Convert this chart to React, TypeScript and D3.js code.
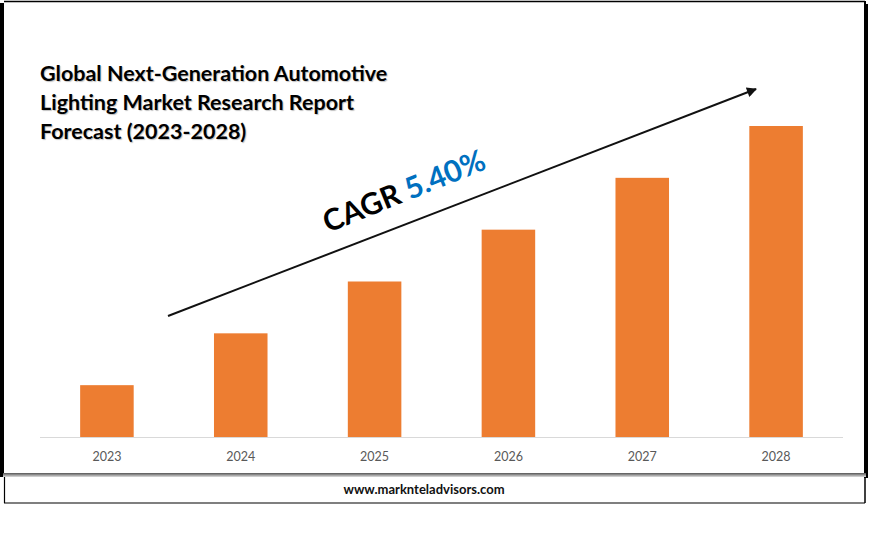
import React from "react";
import * as d3 from "d3";

const years = ["2023", "2024", "2025", "2026", "2027", "2028"];
const values = [1.0, 2.0, 3.0, 4.0, 5.0, 6.0];
const titleLines = [
  "Global Next-Generation Automotive",
  "Lighting Market Research Report",
  "Forecast (2023-2028)",
];
const cagrLabel = "CAGR";
const cagrValue = "5.40%";
const website = "www.marknteladvisors.com";

const W = 870;
const H = 543;

export default function App() {
  const x = d3.scaleBand<string>().domain(years).range([40, 843]).paddingInner(0.6).paddingOuter(0.3);
  const y = d3.scaleLinear().domain([0, 6]).range([437, 126]);
  const font = "Lato, 'Open Sans', sans-serif";
  return (
    <svg width={W} height={H} style={{ position: "absolute", left: 0, top: 0 }}>
      <defs>
        <linearGradient id="shadowH" x1="0" y1="0" x2="0" y2="1">
          <stop offset="0" stopColor="#555" />
          <stop offset="1" stopColor="#ddd" />
        </linearGradient>
        <marker id="arrow" viewBox="0 0 10 10" refX="9" refY="5" markerWidth="6" markerHeight="5" orient="auto">
          <path d="M0,0 L10,5 L0,10 z" fill="#111" />
        </marker>
      </defs>
      <rect x={0} y={0} width={W} height={H} fill="#fff" />
      {/* outer frame */}
      <rect x={0} y={3} width={4} height={474} fill="#000" />
      <line x1={4} y1={1.5} x2={865} y2={1.5} stroke="#000" strokeWidth={1.5} />
      <rect x={864} y={1} width={2} height={477} fill="#000" />
      <rect x={866} y={4} width={2} height={474} fill="#000" />
      <rect x={3} y={473} width={863} height={4} fill="url(#shadowH)" />
      {/* bottom box */}
      <line x1={4.5} y1={477} x2={4.5} y2={503} stroke="#000" strokeWidth={1.2} />
      <line x1={4} y1={503} x2={865} y2={503} stroke="#000" strokeWidth={1.2} />
      <line x1={865} y1={477} x2={865} y2={503} stroke="#000" strokeWidth={1.5} />
      <text x={424} y={494} textAnchor="middle" fontFamily={font} fontWeight={700} fontSize={13} fill="#111">
        {website}
      </text>
      {/* axis */}
      <line x1={40} y1={437.5} x2={843} y2={437.5} stroke="#d9d9d9" strokeWidth={1} />
      {years.map((yr, i) => (
        <g key={yr}>
          <rect x={x(yr)} y={y(values[i])} width={x.bandwidth()} height={437 - y(values[i])} fill="#ED7D31" />
          <text x={(x(yr) ?? 0) + x.bandwidth() / 2} y={461} textAnchor="middle" fontFamily={font} fontSize={12.5} fill="#595959">
            {yr}
          </text>
        </g>
      ))}
      {/* title */}
      {titleLines.map((t, i) => (
        <text key={i} x={40} y={81 + i * 29} fontFamily={font} fontWeight={700} fontSize={21.5} fill="#000"
          style={{ textShadow: "1px 1px 1px rgba(0,0,0,0.25)" }}>
          {t}
        </text>
      ))}
      {/* arrow */}
      <line x1={168} y1={316} x2={756} y2={89} stroke="#111" strokeWidth={2} markerEnd="url(#arrow)" />
      {/* CAGR */}
      <text transform="translate(328,233) rotate(-22)" fontFamily={font} fontWeight={700} fontSize={30}>
        <tspan fill="#000">{cagrLabel} </tspan>
        <tspan fill="#0070C0">{cagrValue}</tspan>
      </text>
    </svg>
  );
}
